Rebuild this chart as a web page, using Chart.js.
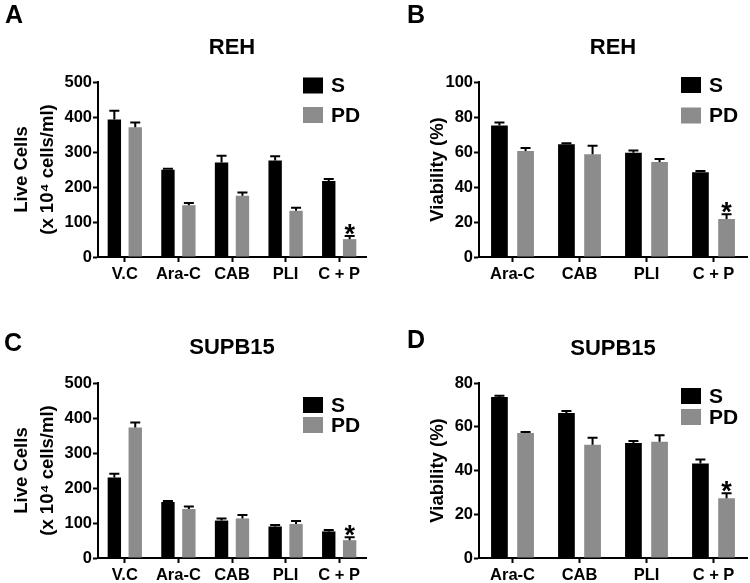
<!DOCTYPE html>
<html>
<head>
<meta charset="utf-8">
<script src="https://cdn.jsdelivr.net/npm/chart.js@4.4.1/dist/chart.umd.min.js"></script>
<style>
  body { margin: 0; background: #fff; }
  #fig { position: relative; width: 750px; height: 583px; font-family: "Liberation Sans", Arial, sans-serif; }
  canvas { position: absolute; }
  .lbl { position: absolute; font-weight: bold; font-size: 25px; line-height: 1; color: #000; }
</style>
</head>
<body>
<div id="fig">
  <canvas id="cA" width="375" height="290" style="left:0;top:0"></canvas>
  <canvas id="cB" width="375" height="290" style="left:375px;top:0"></canvas>
  <canvas id="cC" width="375" height="293" style="left:0;top:290px"></canvas>
  <canvas id="cD" width="375" height="293" style="left:375px;top:290px"></canvas>
  <div class="lbl" style="left:5px;top:2px">A</div>
  <div class="lbl" style="left:407px;top:2px">B</div>
  <div class="lbl" style="left:4px;top:330px">C</div>
  <div class="lbl" style="left:407px;top:327px">D</div>
</div>
<script>
const FONT = '"Liberation Sans", Arial, sans-serif';
const BLACK = '#000000';
const GREY = '#8c8c8c';

// categories
const catsLive = ['V.C', 'Ara-C', 'CAB', 'PLI', 'C + P'];
const catsViab = ['Ara-C', 'CAB', 'PLI', 'C + P'];

// A - REH live cells (x10^4 cells/ml)
const rehLiveS = [393, 249, 270, 276, 217];
const rehLiveSErr = [25, 3, 19, 12, 6];
const rehLivePD = [371, 148, 175, 132, 51];
const rehLivePDErr = [13, 6, 9, 9, 9];

// B - REH viability (%)
const rehViabS = [75.2, 64.4, 59.6, 48.4];
const rehViabSErr = [1.6, 0.6, 1.2, 0.7];
const rehViabPD = [60.6, 58.7, 54.3, 21.7];
const rehViabPDErr = [1.7, 4.9, 1.7, 2.7];

// C - SUPB15 live cells
const supLiveS = [230, 160, 107, 90, 76];
const supLiveSErr = [11, 3, 6, 4, 4];
const supLivePD = [373, 140, 113, 97, 51];
const supLivePDErr = [14, 7, 10, 9, 8];

// D - SUPB15 viability
const supViabS = [73.6, 66.3, 52.6, 43.2];
const supViabSErr = [0.6, 0.9, 0.9, 1.8];
const supViabPD = [57.1, 51.8, 53.1, 27.3];
const supViabPDErr = [0.5, 3.2, 3.0, 2.3];

// error bars, star, title and legend
const decor = {
  id: 'decor',
  afterDatasetsDraw(chart, args, o) {
    const ctx = chart.ctx;
    const area = chart.chartArea;
    const ys = chart.scales.y;
    ctx.save();
    chart.data.datasets.forEach((ds, di) => {
      const meta = chart.getDatasetMeta(di);
      meta.data.forEach((bar, i) => {
        const top = ys.getPixelForValue(ds.data[i] + ds.errors[i]);
        ctx.strokeStyle = '#000';
        ctx.lineWidth = 2;
        ctx.beginPath();
        ctx.moveTo(bar.x, bar.y);
        ctx.lineTo(bar.x, top);
        ctx.moveTo(bar.x - 5, top);
        ctx.lineTo(bar.x + 5, top);
        ctx.stroke();
        if (di === 1 && i === o.star) {
          ctx.fillStyle = '#000';
          ctx.font = 'bold 27px ' + FONT;
          ctx.textAlign = 'center';
          ctx.textBaseline = 'alphabetic';
          ctx.fillText('*', bar.x, top + 7);
        }
      });
    });

    ctx.fillStyle = '#000';
    ctx.font = 'bold 22px ' + FONT;
    ctx.textAlign = 'center';
    ctx.textBaseline = 'middle';
    ctx.fillText(o.title, (area.left + area.right) / 2, o.titleY);

    ctx.font = 'bold 21px ' + FONT;
    ctx.textAlign = 'left';
    chart.data.datasets.forEach((ds, di) => {
      const cy = o.legendY[di];
      ctx.fillStyle = ds.backgroundColor;
      ctx.fillRect(o.legendX, cy - 8, 20, 16);
      ctx.fillStyle = '#000';
      ctx.fillText(ds.label, o.legendX + 28, cy + 1);
    });
    ctx.restore();
  }
};

function makePanel(id, cats, s, sErr, pd, pdErr, cfg) {
  return new Chart(document.getElementById(id), {
    type: 'bar',
    data: {
      labels: cats,
      datasets: [
        { label: 'S', data: s, errors: sErr, backgroundColor: BLACK },
        { label: 'PD', data: pd, errors: pdErr, backgroundColor: GREY }
      ]
    },
    options: {
      responsive: false,
      animation: false,
      devicePixelRatio: 1,
      categoryPercentage: 0.78,
      barPercentage: 0.64,
      layout: { padding: { top: cfg.top, right: cfg.right, left: 0, bottom: 0 } },
      plugins: {
        legend: { display: false },
        tooltip: { enabled: false },
        decor: cfg.decor
      },
      scales: {
        x: {
          offset: true,
          grid: { display: true, drawOnChartArea: false, offset: false, tickLength: 5, tickWidth: 2, tickColor: '#000' },
          border: { color: '#000', width: 2 },
          ticks: { color: '#000', font: { family: FONT, size: 16.5, weight: 'bold' }, padding: 3, maxRotation: 0 },
          afterFit: sc => { sc.height = cfg.xh; }
        },
        y: {
          min: 0,
          max: cfg.max,
          grid: { display: true, drawOnChartArea: false, tickLength: 5, tickWidth: 2, tickColor: '#000' },
          border: { color: '#000', width: 2 },
          ticks: { stepSize: cfg.step, color: '#000', font: { family: FONT, size: 16.5, weight: 'bold' }, padding: 1 },
          title: {
            display: true,
            text: cfg.ytitle,
            color: '#000',
            font: { family: FONT, size: 18.5, weight: 'bold', lineHeight: cfg.ylh },
            padding: { top: cfg.ypad, bottom: 0 }
          },
          afterFit: sc => { sc.width = cfg.yw; }
        }
      }
    },
    plugins: [decor]
  });
}

makePanel('cA', catsLive, rehLiveS, rehLiveSErr, rehLivePD, rehLivePDErr, {
  top: 82, right: 9, xh: 33, yw: 98, max: 500, step: 100,
  ytitle: ['Live Cells', '(x 10\u2074 cells/ml)'], ylh: 1.4, ypad: 9,
  decor: { title: 'REH', titleY: 48, star: 4, legendX: 303, legendY: [85.5, 115] }
});
makePanel('cB', catsViab, rehViabS, rehViabSErr, rehViabPD, rehViabPDErr, {
  top: 82, right: 3, xh: 33, yw: 104, max: 100, step: 20,
  ytitle: 'Viability (%)', ylh: 1.2, ypad: 52,
  decor: { title: 'REH', titleY: 48, star: 3, legendX: 306, legendY: [85, 115.5] }
});
makePanel('cC', catsLive, supLiveS, supLiveSErr, supLivePD, supLivePDErr, {
  top: 93, right: 9, xh: 25, yw: 98, max: 500, step: 100,
  ytitle: ['Live Cells', '(x 10\u2074 cells/ml)'], ylh: 1.4, ypad: 9,
  decor: { title: 'SUPB15', titleY: 58, star: 4, legendX: 303, legendY: [115, 135] }
});
makePanel('cD', catsViab, supViabS, supViabSErr, supViabPD, supViabPDErr, {
  top: 93, right: 3, xh: 25, yw: 104, max: 80, step: 20,
  ytitle: 'Viability (%)', ylh: 1.2, ypad: 52,
  decor: { title: 'SUPB15', titleY: 59, star: 3, legendX: 306, legendY: [106, 127] }
});
</script>
</body>
</html>
